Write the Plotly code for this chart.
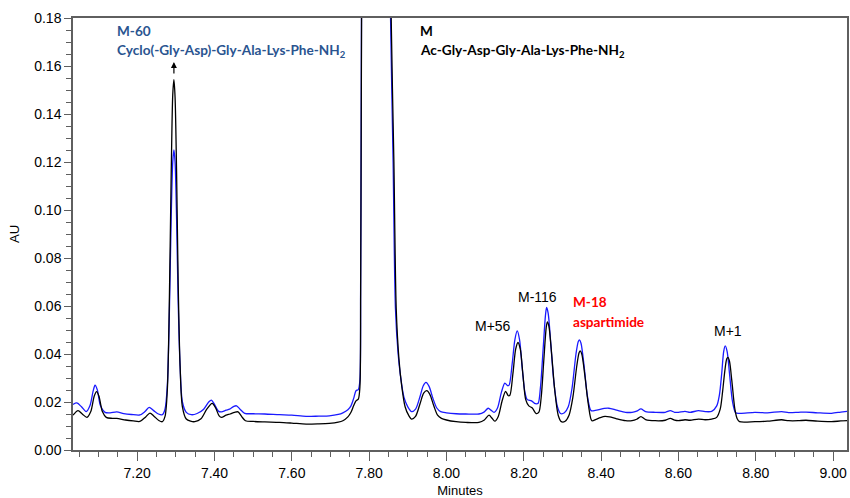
import plotly.graph_objects as go

# ---- data (minutes, AU) ----
blue_t = [7.034, 7.044, 7.056, 7.068, 7.078, 7.086, 7.091, 7.097, 7.105, 7.117, 7.130, 7.147, 7.165, 7.185,
          7.207, 7.220, 7.231, 7.242, 7.255, 7.265, 7.272, 7.278, 7.283, 7.288, 7.292, 7.295, 7.298, 7.302,
          7.306, 7.311, 7.317, 7.327, 7.340, 7.355, 7.372, 7.385, 7.392, 7.400, 7.410, 7.418, 7.430, 7.439,
          7.450, 7.457, 7.466, 7.478, 7.500, 7.530, 7.568, 7.600, 7.637, 7.670, 7.697, 7.720, 7.732, 7.745,
          7.753, 7.760, 7.766, 7.772, 7.776, 7.778, 7.7795, 7.7805, 7.800, 7.820, 7.845, 7.852, 7.8554, 7.862,
          7.868, 7.875, 7.881, 7.890, 7.900, 7.910, 7.920, 7.932, 7.940, 7.947, 7.955, 7.965, 7.975, 7.985,
          8.000, 8.025, 8.050, 8.084, 8.097, 8.108, 8.116, 8.123, 8.132, 8.142, 8.151, 8.158, 8.162, 8.170,
          8.177, 8.183, 8.189, 8.196, 8.203, 8.209, 8.220, 8.230, 8.237, 8.243, 8.250, 8.256, 8.259, 8.263,
          8.270, 8.278, 8.287, 8.295, 8.305, 8.315, 8.325, 8.335, 8.341, 8.344, 8.348, 8.356, 8.365, 8.374,
          8.385, 8.395, 8.408, 8.420, 8.440, 8.463, 8.480, 8.492, 8.503, 8.515, 8.540, 8.566, 8.579, 8.590,
          8.600, 8.617, 8.630, 8.652, 8.669, 8.686, 8.699, 8.706, 8.712, 8.717, 8.721, 8.726, 8.732, 8.740,
          8.748, 8.760, 8.798, 8.830, 8.867, 8.885, 8.910, 8.930, 8.960, 8.996, 9.020, 9.036]
blue_au = [0.0190, 0.0196, 0.0180, 0.0160, 0.0185, 0.0245, 0.0270, 0.0250, 0.0185, 0.0157, 0.0155, 0.0159, 0.0152, 0.0148,
           0.0146, 0.0160, 0.0178, 0.0165, 0.0150, 0.0147, 0.0170, 0.0270, 0.0550, 0.0970, 0.1200, 0.1250, 0.1200, 0.0960,
           0.0620, 0.0350, 0.0200, 0.0157, 0.0147, 0.0152, 0.0170, 0.0200, 0.0208, 0.0190, 0.0162, 0.0159, 0.0166, 0.0170,
           0.0182, 0.0184, 0.0170, 0.0153, 0.0151, 0.0150, 0.0147, 0.0145, 0.0140, 0.0141, 0.0142, 0.0148, 0.0155, 0.0168,
           0.0184, 0.0215, 0.0247, 0.0252, 0.0290, 0.0700, 0.1400, 0.2000, 0.5000, 0.6000, 0.4000, 0.2500, 0.1800, 0.1200,
           0.0590, 0.0400, 0.0310, 0.0220, 0.0180, 0.0160, 0.0170, 0.0225, 0.0268, 0.0282, 0.0265, 0.0215, 0.0175, 0.0160,
           0.0155, 0.0151, 0.0150, 0.0150, 0.0158, 0.0174, 0.0165, 0.0157, 0.0175, 0.0240, 0.0279, 0.0268, 0.0270, 0.0360,
           0.0460, 0.0496, 0.0460, 0.0340, 0.0240, 0.0210, 0.0205, 0.0193, 0.0195, 0.0260, 0.0420, 0.0560, 0.0594, 0.0570,
           0.0440, 0.0280, 0.0180, 0.0152, 0.0155, 0.0180, 0.0260, 0.0400, 0.0452, 0.0459, 0.0445, 0.0350, 0.0220, 0.0164,
           0.0165, 0.0168, 0.0173, 0.0174, 0.0166, 0.0157, 0.0157, 0.0162, 0.0171, 0.0160, 0.0157, 0.0157, 0.0164, 0.0157,
           0.0157, 0.0161, 0.0157, 0.0164, 0.0160, 0.0161, 0.0184, 0.0230, 0.0320, 0.0410, 0.0434, 0.0410, 0.0320, 0.0200,
           0.0155, 0.0153, 0.0157, 0.0155, 0.0160, 0.0156, 0.0157, 0.0158, 0.0155, 0.0153, 0.0158, 0.0161]

black_t = [7.034, 7.047, 7.058, 7.070, 7.080, 7.089, 7.095, 7.101, 7.110, 7.120, 7.135, 7.147, 7.170, 7.190,
           7.207, 7.222, 7.233, 7.244, 7.256, 7.265, 7.272, 7.278, 7.283, 7.288, 7.292, 7.295, 7.298, 7.302,
           7.306, 7.311, 7.317, 7.327, 7.338, 7.349, 7.365, 7.380, 7.394, 7.403, 7.412, 7.418, 7.430, 7.440,
           7.452, 7.461, 7.470, 7.480, 7.500, 7.530, 7.568, 7.600, 7.637, 7.670, 7.697, 7.720, 7.732, 7.745,
           7.753, 7.760, 7.766, 7.772, 7.776, 7.778, 7.7795, 7.7808, 7.800, 7.820, 7.845, 7.854, 7.857, 7.864,
           7.870, 7.877, 7.884, 7.893, 7.902, 7.910, 7.920, 7.932, 7.941, 7.949, 7.957, 7.967, 7.977, 7.987,
           8.000, 8.025, 8.050, 8.084, 8.098, 8.110, 8.118, 8.125, 8.134, 8.144, 8.153, 8.160, 8.164, 8.172,
           8.179, 8.185, 8.191, 8.198, 8.205, 8.213, 8.222, 8.232, 8.239, 8.245, 8.252, 8.258, 8.261, 8.265,
           8.272, 8.280, 8.289, 8.297, 8.307, 8.317, 8.327, 8.337, 8.343, 8.346, 8.350, 8.358, 8.367, 8.376,
           8.387, 8.398, 8.410, 8.422, 8.440, 8.463, 8.480, 8.492, 8.503, 8.515, 8.540, 8.566, 8.579, 8.590,
           8.600, 8.617, 8.630, 8.652, 8.669, 8.686, 8.699, 8.708, 8.714, 8.720, 8.725, 8.728, 8.732, 8.738,
           8.746, 8.752, 8.758, 8.798, 8.830, 8.867, 8.885, 8.910, 8.930, 8.960, 8.996, 9.020, 9.036]
black_au = [0.0145, 0.0164, 0.0150, 0.0136, 0.0160, 0.0225, 0.0243, 0.0225, 0.0160, 0.0136, 0.0132, 0.0132, 0.0125, 0.0121,
            0.0119, 0.0138, 0.0154, 0.0140, 0.0123, 0.0118, 0.0140, 0.0250, 0.0600, 0.1150, 0.1480, 0.1543, 0.1470, 0.1150,
            0.0700, 0.0350, 0.0180, 0.0129, 0.0120, 0.0118, 0.0130, 0.0170, 0.0194, 0.0175, 0.0142, 0.0136, 0.0145, 0.0150,
            0.0157, 0.0159, 0.0140, 0.0122, 0.0119, 0.0117, 0.0115, 0.0112, 0.0108, 0.0109, 0.0111, 0.0116, 0.0122, 0.0138,
            0.0157, 0.0185, 0.0205, 0.0212, 0.0260, 0.0650, 0.1350, 0.2000, 0.5200, 0.6200, 0.4200, 0.2500, 0.1800, 0.1200,
            0.0590, 0.0380, 0.0270, 0.0180, 0.0145, 0.0129, 0.0140, 0.0195, 0.0237, 0.0247, 0.0232, 0.0185, 0.0145, 0.0132,
            0.0125, 0.0118, 0.0115, 0.0115, 0.0125, 0.0145, 0.0132, 0.0120, 0.0140, 0.0205, 0.0244, 0.0226, 0.0228, 0.0320,
            0.0420, 0.0448, 0.0420, 0.0310, 0.0210, 0.0184, 0.0175, 0.0152, 0.0158, 0.0220, 0.0380, 0.0510, 0.0534, 0.0515,
            0.0400, 0.0250, 0.0145, 0.0118, 0.0120, 0.0145, 0.0220, 0.0350, 0.0405, 0.0413, 0.0400, 0.0310, 0.0190, 0.0122,
            0.0128, 0.0135, 0.0140, 0.0138, 0.0130, 0.0122, 0.0122, 0.0128, 0.0139, 0.0127, 0.0122, 0.0124, 0.0132, 0.0124,
            0.0122, 0.0126, 0.0124, 0.0129, 0.0126, 0.0129, 0.0136, 0.0170, 0.0240, 0.0330, 0.0380, 0.0386, 0.0370, 0.0290,
            0.0170, 0.0130, 0.0118, 0.0118, 0.0120, 0.0126, 0.0122, 0.0122, 0.0124, 0.0120, 0.0118, 0.0121, 0.0122]

x_ticks = [7.20, 7.40, 7.60, 7.80, 8.00, 8.20, 8.40, 8.60, 8.80, 9.00]
y_ticks = [0.00, 0.02, 0.04, 0.06, 0.08, 0.10, 0.12, 0.14, 0.16, 0.18]

AX = "#5f5f5f"
LBL_BLUE = "#2A5490"

fig = go.Figure()
fig.add_trace(go.Scatter(x=blue_t, y=blue_au, mode="lines",
                         line=dict(color="#1a1aff", width=1.3, shape="spline", smoothing=0.8),
                         hoverinfo="skip", showlegend=False))
fig.add_trace(go.Scatter(x=black_t, y=black_au, mode="lines",
                         line=dict(color="#000000", width=1.3, shape="spline", smoothing=0.8),
                         hoverinfo="skip", showlegend=False))

ann = []
def txt(x, y, s, color="#000", bold=False, size=14, xanchor="left"):
    ann.append(dict(x=x, y=y, xref="x", yref="y", text=("<b>%s</b>" % s) if bold else s,
                    showarrow=False, xanchor=xanchor, yanchor="middle",
                    font=dict(family=("Lato" if bold else "Liberation Sans, Arial"),
                              size=size, color=color)))

txt(7.1424, 0.1745, "M-60", LBL_BLUE, True, 13.6)
txt(7.1424, 0.1664, "Cyclo(-Gly-Asp)-Gly-Ala-Lys-Phe-NH<sub>2</sub>", LBL_BLUE, True, 13.6)
txt(7.9267, 0.1745, "M", "#000", True, 13.6)
txt(7.9267, 0.1664, "Ac-Gly-Asp-Gly-Ala-Lys-Phe-NH<sub>2</sub>", "#000", True, 13.6)
txt(8.1197, 0.0518, "M+56", "#000", False, 14, "center")
txt(8.2345, 0.0636, "M-116", "#000", False, 14, "center")
txt(8.3228, 0.0616, "M-18", "#ff0000", True, 13.6)
txt(8.3228, 0.0532, "aspartimide", "#ff0000", True, 13.6)
txt(8.7291, 0.0496, "M+1", "#000", False, 14, "center")

ann.append(dict(x=7.295, y=0.1617, ax=7.295, ay=0.1562, xref="x", yref="y", axref="x", ayref="y",
                text="", showarrow=True, arrowhead=2, arrowsize=1, arrowwidth=1.2, arrowcolor="#000"))

fig.update_layout(
    width=850, height=498,
    margin=dict(l=73, r=1, t=18, b=47),
    paper_bgcolor="white", plot_bgcolor="white",
    annotations=ann,
    font=dict(family="Liberation Sans, Arial", size=14, color="#000"),
    xaxis=dict(range=[7.034, 9.036], tickvals=x_ticks, ticktext=["%.2f" % v for v in x_ticks],
               showgrid=False, zeroline=False, showline=True, linecolor=AX, linewidth=1.5, mirror=True,
               ticks="outside", ticklen=9, tickwidth=1.2, tickcolor=AX,
               minor=dict(dtick=0.05, tick0=7.0, ticks="outside", ticklen=5, tickwidth=1.2, tickcolor=AX),
               title=dict(text="Minutes", font=dict(size=13), standoff=7),
               tickfont=dict(size=14)),
    yaxis=dict(range=[0, 0.18], tickvals=y_ticks, ticktext=["%.2f" % v for v in y_ticks],
               showgrid=False, zeroline=False, showline=True, linecolor=AX, linewidth=1.5, mirror=True,
               ticks="outside", ticklen=7, tickwidth=1.2, tickcolor=AX,
               minor=dict(dtick=0.005, tick0=0, ticks="outside", ticklen=5, tickwidth=1.2, tickcolor=AX),
               title=dict(text="AU", font=dict(size=13), standoff=12),
               tickfont=dict(size=14)),
)

fig.write_html("out.html")
